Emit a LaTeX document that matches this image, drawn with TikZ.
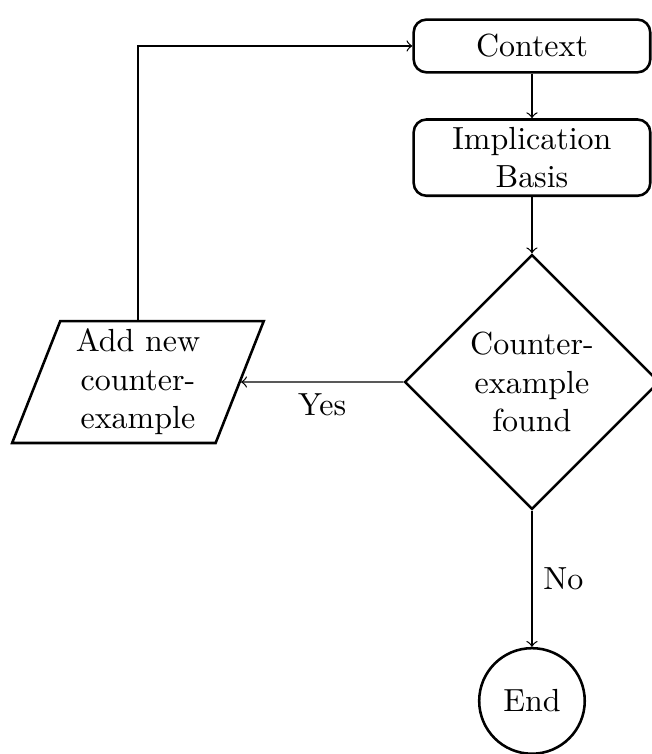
\documentclass[tikz,border=0pt]{standalone}
\usepackage{tikz}
\usetikzlibrary{positioning,shapes.geometric}

\begin{document}
\begin{tikzpicture}[
      node distance=4.9mm,
      proc/.style={draw, thick, rounded corners, align=center, minimum width=26mm,
                   minimum height=5.8mm, inner sep=2.4pt},
      decision/.style={draw, thick, diamond, align=center, minimum width=28mm,
                       minimum height=28mm, inner sep=0pt},
      io/.style={draw, thick, trapezium, trapezium left angle=70,
                 trapezium right angle=110, trapezium stretches=true, align=center,
                 minimum width=27.8mm, minimum height=13.4mm, inner sep=0pt},
      term/.style={draw, thick, circle, minimum size=11.6mm},
      arr/.style={->}
    ]
    \useasboundingbox (0,0) rectangle (7.165,-8.286);
    \node[proc]     (ctx)  at (5.846,-0.505) {Context};
    \node[proc]     (impl) [below=of ctx] {Implication\\Basis};
    \node[decision] (cex)  at (5.846,-4.198) {Counter-\\example\\found};
    \node[io]       (add)  at (1.516,-4.198) {Add new\\counter-\\example};
    \node[term]     (stop) at (5.846,-7.703) {End};
    \draw[arr] (ctx) -- (impl);
    \draw[arr] (impl) -- (cex);
    \draw[arr] (cex.west) -- node[midway,below]{Yes} (add.east);
    \draw[arr] (cex.south) -- node[midway,right]{No} (stop.north);
    % loop back to the context
    \draw[arr] (add.north) |- (ctx.west);
  \end{tikzpicture}
\end{document}
